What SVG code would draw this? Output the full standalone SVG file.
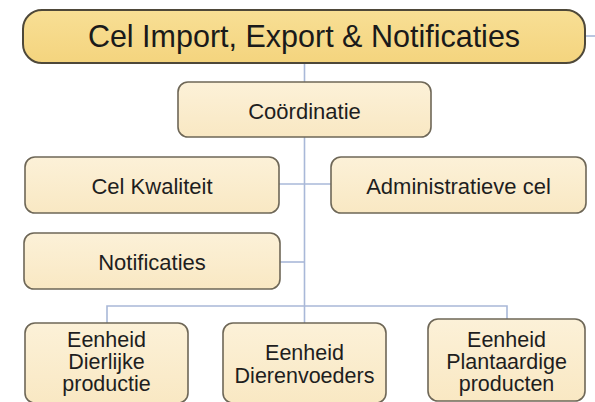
<svg xmlns="http://www.w3.org/2000/svg" width="595" height="402" viewBox="0 0 595 402">
<defs>
<linearGradient id="cream" x1="0" y1="0" x2="0" y2="1">
<stop offset="0" stop-color="#fcf1d8"/>
<stop offset="1" stop-color="#f9e8c3"/>
</linearGradient>
<linearGradient id="gold" x1="0" y1="0" x2="0" y2="1">
<stop offset="0" stop-color="#f8df95"/>
<stop offset="1" stop-color="#f4d47e"/>
</linearGradient>
</defs>
<style>
.box{fill:url(#cream);stroke:#6e6757;stroke-width:1.6}
.top{fill:url(#gold);stroke:#4e4839;stroke-width:2}
.conn{stroke:#a9b8d8;stroke-width:1.6;fill:none}
text{font-family:"Liberation Sans",Arial,sans-serif;fill:#1e1e1e;text-anchor:middle}
.t{font-size:22px}
.m{font-size:21.5px}
.title{font-size:30.5px;fill:#1a1a1a}
</style>
<rect width="595" height="402" fill="#ffffff"/>
<g id="connectors">
<line class="conn" x1="585" y1="36" x2="595" y2="36"/>
<line class="conn" x1="304.5" y1="63" x2="304.5" y2="323"/>
<line class="conn" x1="279" y1="184" x2="331" y2="184"/>
<line class="conn" x1="280" y1="262" x2="304.5" y2="262"/>
<polyline class="conn" points="107,323 107,306 507,306 507,319"/>
</g>
<g id="n-top">
<rect class="top" x="23" y="10" width="562" height="53" rx="19"/>
<text class="title" x="304" y="47">Cel Import, Export &amp; Notificaties</text>
</g>
<g id="n-coordinatie">
<rect class="box" x="178" y="82" width="253" height="55" rx="10"/>
<text class="t" x="304.5" y="119">Coördinatie</text>
</g>
<g id="n-kwaliteit">
<rect class="box" x="25" y="157" width="254" height="56" rx="10"/>
<text class="t" x="152" y="193.5">Cel Kwaliteit</text>
</g>
<g id="n-administratief">
<rect class="box" x="331" y="157" width="255" height="56" rx="10"/>
<text class="t" x="458.5" y="193.5">Administratieve cel</text>
</g>
<g id="n-notificaties">
<rect class="box" x="24" y="233" width="256" height="56" rx="10"/>
<text class="t" x="152" y="270">Notificaties</text>
</g>
<g id="n-dierlijke">
<rect class="box" x="25" y="323" width="163" height="80" rx="10"/>
<text class="m"><tspan x="106.5" y="347">Eenheid</tspan><tspan x="106.5" y="369">Dierlijke</tspan><tspan x="106.5" y="391">productie</tspan></text>
</g>
<g id="n-dierenvoeders">
<rect class="box" x="223" y="323" width="163" height="80" rx="10"/>
<text class="m"><tspan x="304.5" y="360">Eenheid</tspan><tspan x="304.5" y="383">Dierenvoeders</tspan></text>
</g>
<g id="n-plantaardige">
<rect class="box" x="428" y="319" width="157" height="82" rx="10"/>
<text class="m"><tspan x="506.5" y="347">Eenheid</tspan><tspan x="506.5" y="369">Plantaardige</tspan><tspan x="506.5" y="391">producten</tspan></text>
</g>
</svg>
